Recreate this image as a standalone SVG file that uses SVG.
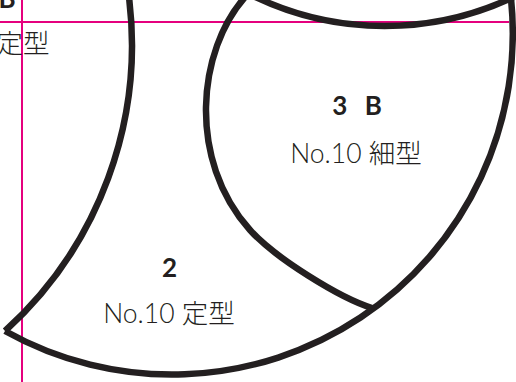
<svg xmlns="http://www.w3.org/2000/svg" width="516" height="382" viewBox="0 0 516 382">
  <style>
    .guide { stroke: #e5007e; stroke-width: 2; fill: none; }
    .outline { stroke: #231f20; stroke-width: 6.5; fill: none; stroke-linejoin: miter; }
    .title { font-family: Lato, "Noto Sans", "Noto Sans CJK JP", sans-serif; font-weight: 700; font-size: 26px; fill: #231f20; }
    .sub { font-family: Lato, "Noto Sans CJK JP", sans-serif; font-weight: 300; font-size: 26.5px; fill: #231f20; }
  </style>
  <rect width="516" height="382" fill="#ffffff"/>
  <g id="guides">
    <line class="guide" x1="0" y1="22" x2="509" y2="22"/>
    <line class="guide" x1="22" y1="0" x2="22" y2="382"/>
  </g>
  <g id="connectors">
    <path id="outer-arc" class="outline" d="M 510.6 -5 A 341 341 0 0 1 5 331"/>
    <path id="left-arc" class="outline" d="M 128.7 -5 A 386 386 0 0 1 5 331"/>
    <path id="inner-arc" class="outline" d="M 246 -4 C 197 50, 187 160, 250 230 C 275 258, 340 298, 372 308"/>
    <path id="top-arc" class="outline" d="M 251.3 -5 A 301.6 301.6 0 0 0 517.7 -5"/>
  </g>
  <g id="region-1">
    <text class="title" x="15.5" y="7.5" text-anchor="end">B</text>
    <text class="sub" x="49.5" y="53" text-anchor="end">定型</text>
  </g>
  <g id="region-2">
    <text class="title" x="169.5" y="277" text-anchor="middle">2</text>
    <text class="sub" x="169" y="323" text-anchor="middle">No.10 定型</text>
  </g>
  <g id="region-3">
    <text class="title" x="357" y="115" text-anchor="middle" word-spacing="11">3 B</text>
    <text class="sub" x="356" y="162.5" text-anchor="middle">No.10 細型</text>
  </g>
</svg>
